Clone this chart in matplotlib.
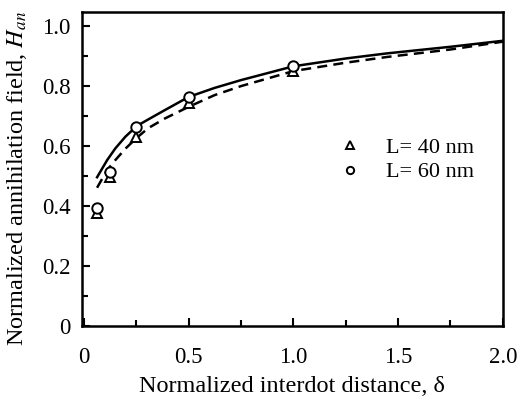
import matplotlib
matplotlib.use("Agg")
import matplotlib.pyplot as plt
from matplotlib.ticker import MultipleLocator

plt.rcParams['font.family'] = ['Liberation Serif', 'DejaVu Serif']
plt.rcParams['mathtext.fontset'] = 'stix'

# measured points
delta_pts = [0.0625, 0.125, 0.25, 0.5, 1.0]
h_40 = [0.377, 0.498, 0.631, 0.744, 0.851]
h_60 = [0.392, 0.514, 0.664, 0.762, 0.867]

# calculated curves
delta_solid = [0.062, 0.11, 0.149, 0.197, 0.252, 0.307, 0.386, 0.5, 0.624, 0.75,
               1.0, 1.25, 1.447, 1.75, 2.0]
h_solid = [0.496, 0.553, 0.592, 0.631, 0.667, 0.689, 0.72, 0.764, 0.794, 0.82,
           0.866, 0.892, 0.909, 0.931, 0.951]
delta_dash = [0.062, 0.11, 0.149, 0.197, 0.252, 0.307, 0.386, 0.5, 0.624, 0.75,
              1.0, 1.25, 1.447, 1.75, 2.0]
h_dash = [0.461, 0.52, 0.553, 0.591, 0.628, 0.66, 0.692, 0.731, 0.77, 0.80,
          0.85, 0.878, 0.897, 0.922, 0.948]

fig = plt.figure(figsize=(5.17, 3.97), dpi=100)
ax = fig.add_axes([0.1586, 0.1788, 0.814, 0.791])

ax.plot(delta_solid, h_solid, '-', color='black', lw=1.8)
ax.plot(delta_dash, h_dash, '--', color='black', lw=1.8, dashes=(4, 2.5))
ax.plot(delta_pts, h_40, '^', ms=7.5, mfc='white', mec='black', mew=1.4, ls='none', label='L= 40 nm')
ax.plot(delta_pts, h_60, 'o', ms=7.5, mfc='white', mec='black', mew=1.4, ls='none', label='L= 60 nm')

ax.set_xlim(-0.01, 2.0)
ax.set_ylim(0, 1.047)
ax.xaxis.set_minor_locator(MultipleLocator(0.25))
ax.yaxis.set_minor_locator(MultipleLocator(0.1))
ax.set_xticks([0, 0.5, 1.0, 1.5, 2.0])
ax.set_xticklabels(['0', '0.5', '1.0', '1.5', '2.0'])
ax.set_yticks([0, 0.2, 0.4, 0.6, 0.8, 1.0])
ax.set_yticklabels(['0', '0.2', '0.4', '0.6', '0.8', '1.0'])
ax.tick_params(which='both', direction='in', top=False, right=False, labelsize=16.5, width=1.5)
ax.tick_params(which='major', length=6)
ax.tick_params(axis='y', which='major', pad=8)
ax.tick_params(axis='x', which='major', pad=15)
ax.tick_params(which='minor', length=4)
for s in ax.spines.values():
    s.set_linewidth(1.8)

ax.set_xlabel('Normalized interdot distance, δ', fontsize=17.5, labelpad=6)
ax.set_ylabel(r'Normalized annihilation field, $H_{an}$', fontsize=17.5)
ax.yaxis.set_label_coords(-0.125, 0.471)

ax.legend(loc='center left', bbox_to_anchor=(0.563, 0.529), frameon=False, fontsize=16,
          markerscale=0.7, handlelength=1.0, handletextpad=1.1, labelspacing=0.18,
          borderpad=0.4)

fig.savefig('out.png', dpi=100)
